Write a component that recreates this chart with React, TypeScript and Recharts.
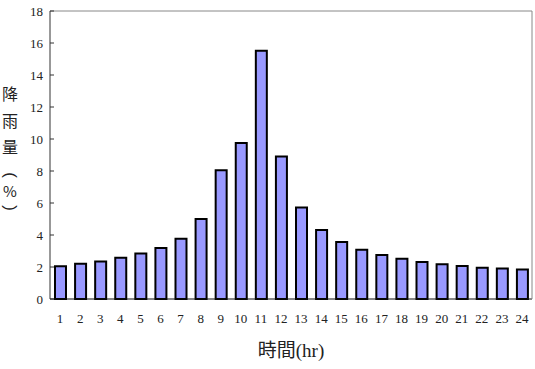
import { Bar, BarChart, XAxis, YAxis } from 'recharts'

// hourly share of rainfall (%)
const hours = [
  '1', '2', '3', '4', '5', '6', '7', '8', '9', '10', '11', '12',
  '13', '14', '15', '16', '17', '18', '19', '20', '21', '22', '23', '24',
]
const rainfall = [
  2.04, 2.2, 2.35, 2.58, 2.85, 3.19, 3.77, 5.0, 8.04, 9.75, 15.52, 8.91,
  5.72, 4.31, 3.56, 3.08, 2.75, 2.52, 2.32, 2.17, 2.06, 1.96, 1.91, 1.85,
]
const yTicks = [0, 2, 4, 6, 8, 10, 12, 14, 16, 18]
// vertical axis title, one glyph per row; brackets are turned sideways
const yLabelChars = ['降', '雨', '量', '(', '%', ')']
const boundaryTicks = hours.map((_, i) => i).concat(hours.length)

const data = hours.map((hour, i) => ({ hour, value: rainfall[i] }))

const serif = "'Liberation Serif', 'DejaVu Serif', serif"
const cjk = "'Liberation Serif', 'Noto Sans CJK JP', sans-serif"
const cjkOnly = "'Noto Sans CJK JP', sans-serif"

// offsets of each stacked char from the plot's vertical centre
const charOffsets = [-62, -35, -9, 20, 35, 53]

function VerticalLabel(props: any) {
  const { viewBox } = props
  const cy = viewBox.y + viewBox.height / 2
  return (
    <g>
      {yLabelChars.map((ch, i) => {
        const y = cy + charOffsets[i]
        const bracket = ch === '(' || ch === ')'
        return (
          <text
            key={i}
            x={10}
            y={y}
            textAnchor='middle'
            dominantBaseline='central'
            fontSize={bracket ? 17 : ch === '%' ? 15 : 16}
            fontFamily={bracket ? "'Liberation Sans', sans-serif" : cjkOnly}
            transform={bracket ? `rotate(90, 10, ${y})` : undefined}
            fill='#222'
          >
            {ch}
          </text>
        )
      })}
    </g>
  )
}

export default function App() {
  return (
    <div style={{ position: 'absolute', left: 0, top: 0, background: '#fff' }}>
      <BarChart
        width={535}
        height={369}
        data={data}
        margin={{ top: 10, right: 2, bottom: 0, left: 0 }}
        barSize={11}
      >
        <XAxis
          dataKey='hour'
          stroke='#111'
          tickLine={false}
          tickMargin={9}
          tick={{ fill: '#222', fontSize: 13, fontFamily: serif }}
          interval={0}
          label={{
            value: '時間(hr)',
            position: 'insideBottom',
            offset: 11,
            fill: '#222',
            fontSize: 19,
            fontFamily: cjk,
          }}
          height={69}
        />
        <XAxis
          xAxisId='b'
          type='number'
          domain={[0, 24]}
          ticks={boundaryTicks}
          interval={0}
          axisLine={false}
          tick={false}
          tickSize={-3}
          stroke='#333'
          height={1}
          allowDataOverflow
        />
        <XAxis
          xAxisId='top'
          orientation='top'
          dataKey='hour'
          tick={false}
          tickLine={false}
          stroke='#888'
          height={1}
        />
        <YAxis
          domain={[0, 18]}
          ticks={yTicks}
          interval={0}
          width={50}
          stroke='#333'
          tickSize={-4}
          tickMargin={11}
          tick={{ fill: '#222', fontSize: 13, fontFamily: serif }}
          label={<VerticalLabel />}
        />
        <YAxis
          yAxisId='r'
          orientation='right'
          domain={[0, 18]}
          tick={false}
          tickLine={false}
          stroke='#888'
          width={1}
        />
        <Bar
          dataKey='value'
          fill='#9999FF'
          stroke='#000'
          strokeWidth={2}
          isAnimationActive={false}
        />
      </BarChart>
    </div>
  )
}
